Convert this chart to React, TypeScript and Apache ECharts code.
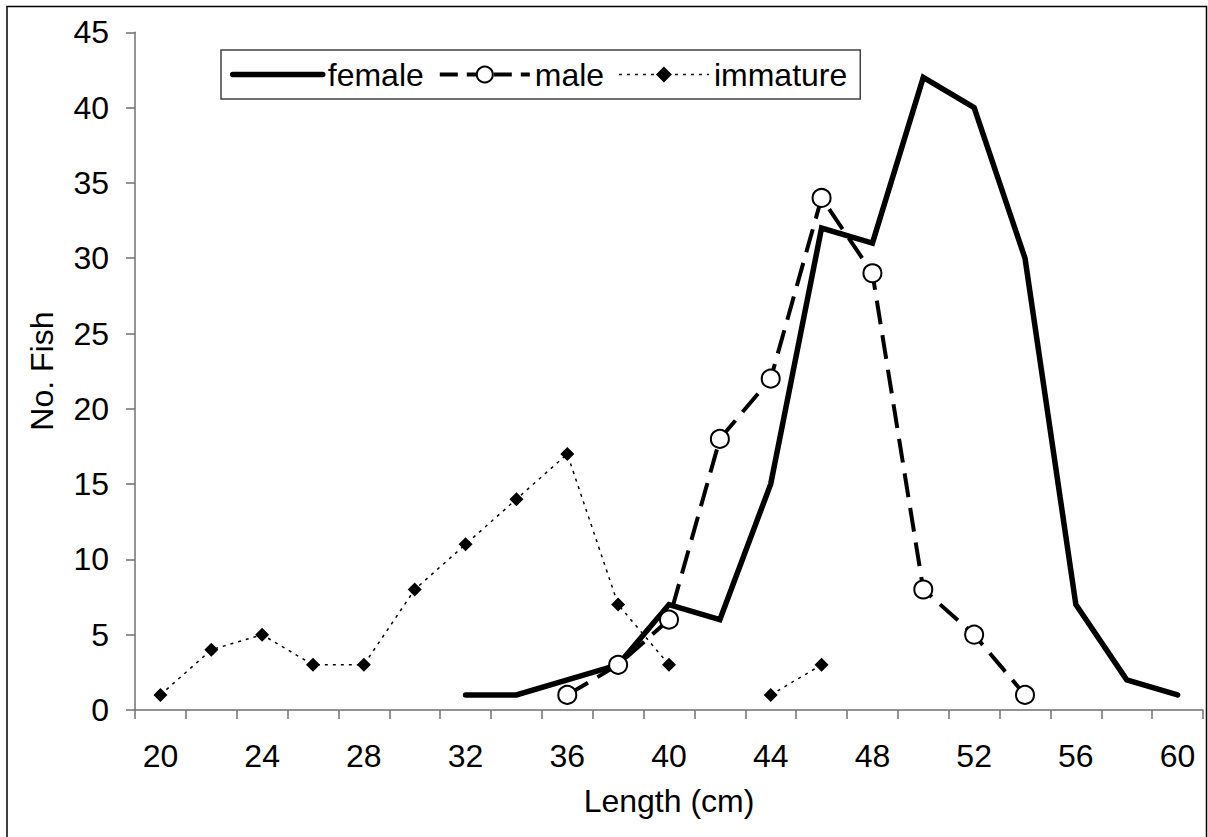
import React, { useEffect, useRef } from "react";
import * as echarts from "echarts";

const categories = ["20","22","24","26","28","30","32","34","36","38","40","42","44","46","48","50","52","54","56","58","60"];
const female = [null,null,null,null,null,null,1,1,2,3,7,6,15,32,31,42,40,30,7,2,1];
const male = [null,null,null,null,null,null,null,null,1,3,6,18,22,34,29,8,5,1,null,null,null];
const immature = [1,4,5,3,3,8,11,14,17,7,3,null,1,3,null,null,null,null,null,null,null];
const yTicks = { min: 0, max: 45, interval: 5 };

const FONT = "'Liberation Sans', Arial, sans-serif";
const FS = 32;

export default function App() {
  const ref = useRef<HTMLDivElement>(null);
  useEffect(() => {
    if (!ref.current) return;
    const chart = echarts.init(ref.current, null, { renderer: "svg" });
    chart.setOption({
      animation: false,
      backgroundColor: "#ffffff",
      textStyle: { fontFamily: FONT, color: "#000" },
      grid: { left: 135, right: 5, top: 32.3, bottom: 127, containLabel: false },
      legend: {
        data: [
          { name: "female", itemStyle: { opacity: 0 }, lineStyle: { width: 5.5, color: "#000" } },
          { name: "male", lineStyle: { width: 4, color: "#000", type: [18, 9] } },
          { name: "immature", lineStyle: { width: 1.5, color: "#000", type: [3, 5] } },
        ],
        left: 221,
        top: 50,
        orient: "horizontal",
        itemWidth: 90,
        itemHeight: 20,
        itemGap: 14,
        padding: [8.5, 13, 8.5, 9],
        borderColor: "#404040",
        borderWidth: 1.5,
        backgroundColor: "#ffffff",
        textStyle: { fontSize: FS, color: "#000", fontFamily: FONT },
      },
      xAxis: {
        type: "category",
        data: categories,
        boundaryGap: true,
        name: "Length (cm)",
        nameLocation: "middle",
        nameGap: 75,
        nameTextStyle: { fontSize: FS, color: "#000", fontFamily: FONT },
        axisLine: { lineStyle: { color: "#707070", width: 1.5 } },
        axisTick: { show: true, interval: 0, inside: false, length: 9, lineStyle: { color: "#707070", width: 1.5 } },
        axisLabel: { interval: 1, margin: 30, fontSize: FS, color: "#000", fontFamily: FONT },
        splitLine: { show: false },
      },
      yAxis: {
        type: "value",
        min: yTicks.min,
        max: yTicks.max,
        interval: yTicks.interval,
        name: "No. Fish",
        nameLocation: "middle",
        nameGap: 77,
        nameTextStyle: { fontSize: FS, color: "#000", fontFamily: FONT },
        axisLine: { show: true, lineStyle: { color: "#707070", width: 1.5 } },
        axisTick: { show: true, inside: false, length: 9, lineStyle: { color: "#707070", width: 1.5 } },
        axisLabel: { margin: 26, fontSize: FS, color: "#000", fontFamily: FONT },
        splitLine: { show: false },
      },
      series: [
        {
          name: "female",
          type: "line",
          data: female,
          symbol: "none",
          connectNulls: false,
          lineStyle: { color: "#000", width: 5.5, cap: "round", join: "miter" },
          itemStyle: { color: "#000" },
          z: 2,
        },
        {
          name: "male",
          type: "line",
          data: male,
          symbol: "circle",
          symbolSize: 18,
          connectNulls: false,
          lineStyle: { color: "#000", width: 4, type: [24, 11] },
          itemStyle: { color: "#ffffff", borderColor: "#000", borderWidth: 2 },
          z: 4,
        },
        {
          name: "immature",
          type: "line",
          data: immature,
          symbol: "diamond",
          symbolSize: 14,
          connectNulls: false,
          lineStyle: { color: "#000", width: 1.5, type: [3, 5] },
          itemStyle: { color: "#000" },
          z: 3,
        },
      ],
      graphic: [
        {
          type: "rect",
          silent: true,
          shape: { x: 7, y: 6.5, width: 1199.5, height: 900 },
          style: { fill: "none", stroke: "#000", lineWidth: 1.5 },
          z: 100,
        },
      ],
    });
    return () => chart.dispose();
  }, []);
  return (
    <div
      ref={ref}
      style={{ position: "fixed", left: 0, top: 0, width: 1208, height: 837 }}
    />
  );
}
